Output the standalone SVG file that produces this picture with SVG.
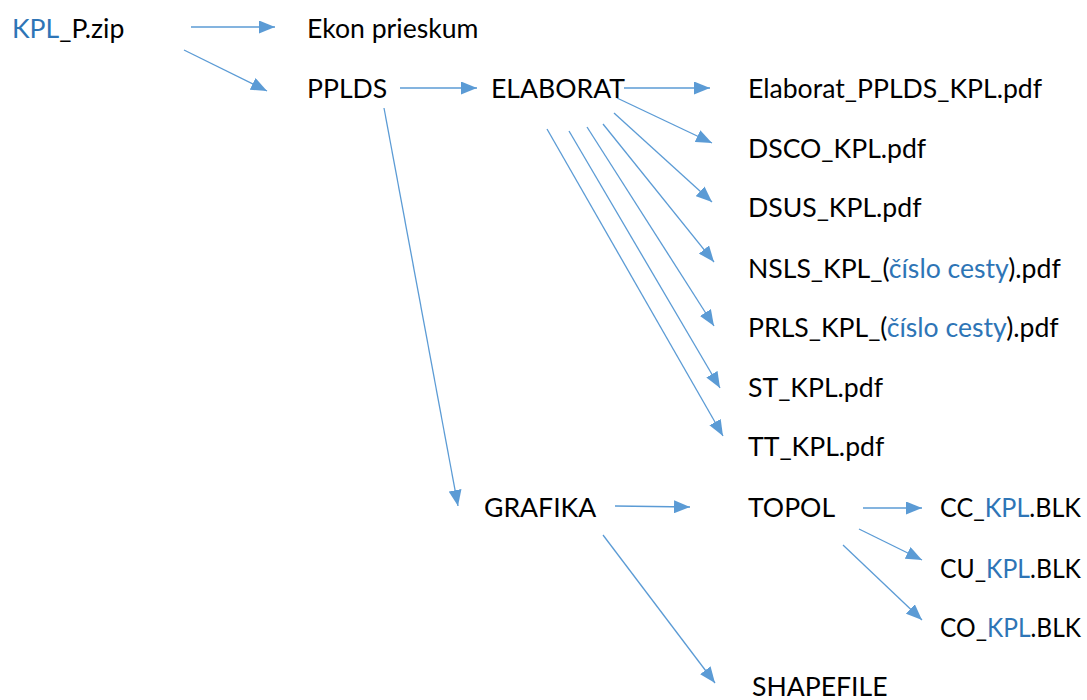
<svg xmlns="http://www.w3.org/2000/svg" width="1087" height="700" viewBox="0 0 1087 700">
<defs>
<style>
text{font-family:"Lato","Liberation Sans",sans-serif;font-size:26.6px;fill:#000}
.b{fill:#2E75B6}
.c line{stroke:#5B9BD5;stroke-width:1.3;marker-end:url(#ah)}
</style>
<marker id="ah" viewBox="0 0 16 13" refX="16" refY="6.5" markerWidth="16" markerHeight="13" markerUnits="userSpaceOnUse" orient="auto">
<path d="M0,0 L16,6.5 L0,13 z" fill="#5B9BD5"/>
</marker>
</defs>
<rect width="1087" height="700" fill="#fff"/>
<g class="c" id="connectors">
<line x1="191" y1="27" x2="275" y2="27"/>
<line x1="184" y1="50" x2="267" y2="91"/>
<line x1="400" y1="88" x2="477" y2="88"/>
<line x1="624" y1="88" x2="710" y2="88"/>
<line x1="617" y1="98" x2="712" y2="143"/>
<line x1="614" y1="113" x2="712" y2="202"/>
<line x1="603" y1="124" x2="714" y2="262"/>
<line x1="587" y1="127" x2="714" y2="326"/>
<line x1="569" y1="131" x2="720" y2="388"/>
<line x1="547" y1="129" x2="723" y2="436"/>
<line x1="384" y1="108" x2="458" y2="506"/>
<line x1="615" y1="506" x2="690" y2="507"/>
<line x1="603" y1="535" x2="715" y2="683"/>
<line x1="863" y1="508" x2="922" y2="508"/>
<line x1="859" y1="529" x2="922" y2="560"/>
<line x1="843" y1="545" x2="922" y2="620"/>
</g>
<g id="n-zip"><text x="12" y="38"><tspan class="b">KPL</tspan>_P.zip</text></g>
<g id="n-ekon"><text x="307" y="38">Ekon prieskum</text></g>
<g id="n-pplds"><text x="307" y="98">PPLDS</text></g>
<g id="n-elaborat"><text x="491" y="98">ELABORAT</text></g>
<g id="n-elab-pdf"><text x="748" y="98">Elaborat_PPLDS_KPL.pdf</text></g>
<g id="n-dsco"><text x="748" y="158">DSCO_KPL.pdf</text></g>
<g id="n-dsus"><text x="748" y="217">DSUS_KPL.pdf</text></g>
<g id="n-nsls"><text x="748" y="278">NSLS_KPL_(<tspan class="b">číslo cesty</tspan>).pdf</text></g>
<g id="n-prls"><text x="748" y="337">PRLS_KPL_(<tspan class="b">číslo cesty</tspan>).pdf</text></g>
<g id="n-st"><text x="748" y="397">ST_KPL.pdf</text></g>
<g id="n-tt"><text x="748" y="456">TT_KPL.pdf</text></g>
<g id="n-grafika"><text x="484" y="517">GRAFIKA</text></g>
<g id="n-topol"><text x="748" y="517">TOPOL</text></g>
<g id="n-cc"><text x="940" y="517" textLength="141" lengthAdjust="spacingAndGlyphs">CC_<tspan class="b">KPL</tspan>.BLK</text></g>
<g id="n-cu"><text x="940" y="578" textLength="141" lengthAdjust="spacingAndGlyphs">CU_<tspan class="b">KPL</tspan>.BLK</text></g>
<g id="n-co"><text x="940" y="637" textLength="141" lengthAdjust="spacingAndGlyphs">CO_<tspan class="b">KPL</tspan>.BLK</text></g>
<g id="n-shapefile"><text x="752" y="696">SHAPEFILE</text></g>
</svg>
